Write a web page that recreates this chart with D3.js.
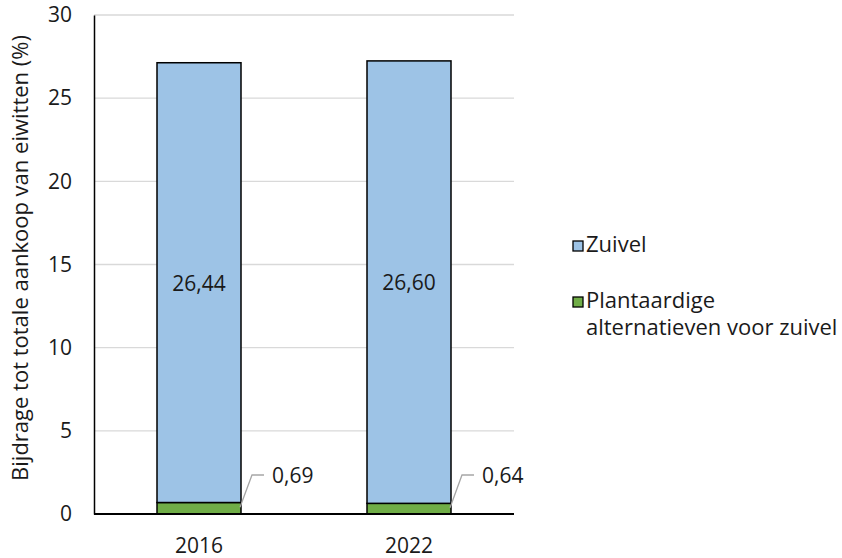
<!DOCTYPE html>
<html><head><meta charset="utf-8">
<script src="https://cdn.jsdelivr.net/npm/d3@7"></script>
<style>body{margin:0;background:#fff}svg{display:block}text{font-family:"Open Sans",sans-serif;fill:#1a1a1a}</style>
</head><body><svg id="c" width="842" height="558"></svg>
<script>
const categories = ["2016", "2022"];
const zuivel = [26.44, 26.60];
const plantaardig = [0.69, 0.64];
const seriesNames = ["Zuivel", "Plantaardige alternatieven voor zuivel"];
const yTicks = [0, 5, 10, 15, 20, 25, 30];
const yTitle = "Bijdrage tot totale aankoop van eiwitten (%)";

const svg = d3.select("#c");
const fs = 21, fsL = 22;
const x = d3.scaleBand().domain(categories).range([94, 514]).paddingInner(0.6).paddingOuter(0.3);
const y = d3.scaleLinear().domain([0, 30]).range([514, 15]);
const fmt = v => d3.format(".2f")(v).replace(".", ",");

// gridlines
svg.append("g").selectAll("line").data(yTicks.filter(t => t > 0)).join("line")
  .attr("x1", 94).attr("x2", 514).attr("y1", d => y(d)).attr("y2", d => y(d))
  .attr("stroke", "#d9d9d9").attr("stroke-width", 1.3);

// y axis
const ya = svg.append("g").attr("transform", "translate(94,0)")
  .call(d3.axisLeft(y).tickValues(yTicks).tickSize(0).tickPadding(22).tickFormat(d => String(d)));
ya.select(".domain").attr("stroke", "#000").attr("stroke-width", 1.5);
ya.selectAll("text").style("font-family", "Open Sans").style("font-size", fs + "px").attr("fill", "#1a1a1a");

const colors = ["#9DC3E6", "#70AD47"];
const stacks = categories.map((c, i) => ({ c, g: plantaardig[i], z: zuivel[i] }));

// bars: green bottom
svg.append("g").selectAll("rect").data(stacks).join("rect")
  .attr("x", d => x(d.c)).attr("width", x.bandwidth())
  .attr("y", d => y(d.g)).attr("height", d => y(0) - y(d.g))
  .attr("fill", colors[1]).attr("stroke", "#000").attr("stroke-width", 1.5);
// blue top
svg.append("g").selectAll("rect").data(stacks).join("rect")
  .attr("x", d => x(d.c)).attr("width", x.bandwidth())
  .attr("y", d => y(d.g + d.z)).attr("height", d => y(d.g) - y(d.g + d.z))
  .attr("fill", colors[0]).attr("stroke", "#000").attr("stroke-width", 1.5);

// x axis baseline
svg.append("line").attr("x1", 94).attr("x2", 514).attr("y1", y(0)).attr("y2", y(0))
  .attr("stroke", "#000").attr("stroke-width", 1.8);
const xa = svg.append("g").attr("transform", `translate(0,${y(0)})`)
  .call(d3.axisBottom(x).tickSize(0).tickPadding(24));
xa.select(".domain").remove();
xa.selectAll("text").style("font-family", "Open Sans").style("font-size", fs + "px").attr("fill", "#1a1a1a");

// zuivel labels
svg.append("g").selectAll("text").data(stacks).join("text")
  .attr("x", d => x(d.c) + x.bandwidth() / 2).attr("y", d => y(d.g + d.z / 2))
  .attr("text-anchor", "middle").attr("dominant-baseline", "central")
  .style("font-size", fs + "px").text(d => fmt(d.z));

// callouts for small values
const co = svg.append("g");
stacks.forEach(d => {
  const x0 = x(d.c) + x.bandwidth() - 1, y0 = y(d.g / 2) - 1;
  const yl = y(0) - 39;
  co.append("polyline")
    .attr("points", `${x0},${y0} ${x0 + 12},${yl} ${x0 + 24},${yl}`)
    .attr("fill", "none").attr("stroke", "#a6a6a6").attr("stroke-width", 1.3);
  co.append("text").attr("x", x0 + 32).attr("y", yl).attr("dominant-baseline", "central")
    .style("font-size", fs + "px").text(fmt(d.g));
});

// y title
svg.append("text").attr("transform", `translate(28,258) rotate(-90)`)
  .attr("text-anchor", "middle").style("font-size", fsL + "px").text(yTitle);

// legend
const lg = svg.append("g");
lg.append("rect").attr("x", 573).attr("y", 241).attr("width", 10).attr("height", 10)
  .attr("fill", colors[0]).attr("stroke", "#000").attr("stroke-width", 1.3);
lg.append("text").attr("x", 586).attr("y", 252).style("font-size", fsL + "px").text(seriesNames[0]);
lg.append("rect").attr("x", 573).attr("y", 297).attr("width", 10).attr("height", 10)
  .attr("fill", colors[1]).attr("stroke", "#000").attr("stroke-width", 1.3);
const t2 = lg.append("text").attr("x", 586).attr("y", 308).style("font-size", fsL + "px");
t2.append("tspan").attr("x", 586).text("Plantaardige");
t2.append("tspan").attr("x", 586).attr("dy", 27).text("alternatieven voor zuivel");
</script></body></html>
